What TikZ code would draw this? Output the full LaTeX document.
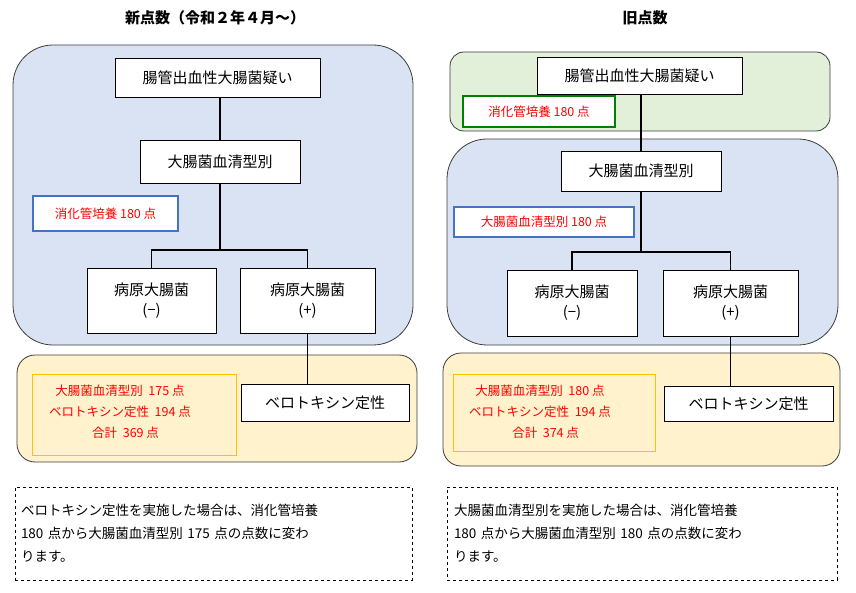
\documentclass[tikz,border=0pt]{standalone}
\usepackage{fontspec}
\setmainfont{Noto Sans CJK JP}
\usetikzlibrary{positioning}
\definecolor{panelblue}{RGB}{218,227,243}
\definecolor{panelgreen}{RGB}{226,240,217}
\definecolor{panelyellow}{RGB}{255,242,204}
\definecolor{framegray}{RGB}{60,60,60}
\definecolor{labelblue}{RGB}{68,114,196}
\definecolor{labelgreen}{RGB}{0,128,0}
\definecolor{labelorange}{RGB}{255,192,0}
\tikzset{
    box/.style={draw, thick, fill=white, font=\fontsize{15}{20}\selectfont, align=center, inner sep=0pt},
    panel/.style={draw=framegray, thick, rounded corners=#1},
    tag/.style={draw, very thick, font=\fontsize{12.5}{15}\selectfont, text=red, inner sep=0pt, align=center},
    sum/.style={font=\fontsize{12.5}{21}\selectfont, text=red, inner sep=0pt, align=center},
    note/.style={draw, dashed, thin, font=\fontsize{13.5}{23}\selectfont, align=left, inner sep=0pt},
    branch/.style={line width=1.6pt},
}
\begin{document}
\begin{tikzpicture}[x=1pt, y=-1pt]
    \useasboundingbox (0,0) rectangle (856,593);

    % New scheme (left)
    \node[font=\fontsize{15}{18}\selectfont\bfseries] (titleNew) at (215,18) {新点数（令和２年４月～）};
    \draw[panel=40pt, fill=panelblue] (13,45) rectangle (413,345);
    \draw[panel=18pt, fill=panelyellow] (17,355) rectangle (417,462);
    \node[box, minimum width=205pt, minimum height=39pt] (suspA) at (217.5,77.5) {腸管出血性大腸菌疑い};
    \node[box, minimum width=160pt, minimum height=43pt] (seroA) at (220,161.5) {大腸菌血清型別};
    \node[tag, draw=labelblue, fill=white, minimum width=145pt, minimum height=35pt] (cultA) at (105.5,213.5) {消化管培養 180 点};
    \node[box, minimum width=129pt, minimum height=65pt] (negA) at (151.5,300.5) {病原大腸菌\\(−)};
    \node[box, minimum width=135pt, minimum height=65pt] (posA) at (307.5,300.5) {病原大腸菌\\(+)};
    \node[box, minimum width=168pt, minimum height=37pt] (veroA) at (325,402.5) {ベロトキシン定性};
    \node[draw=labelorange, thin, minimum width=204pt, minimum height=81pt] (sumA) at (134,414.5) {};
    \node[sum] (sumAText) at (120,412) {大腸菌血清型別\ \ 175 点\\ベロトキシン定性\ \ 194 点\\\ \ \ \ 合計\ \ 369 点};
    \coordinate (forkA) at (seroA.south |- 0,250);
    \draw[branch] (suspA.south -| seroA.north) -- (seroA.north);
    \draw[branch] (seroA.south) -- (forkA);
    \draw[branch] (negA.north) |- (forkA) -| (posA.north);
    \draw[branch] (posA.south) -- (posA.south |- veroA.north);
    \node[note, minimum width=397pt, minimum height=93pt, text width=385pt] (noteA) at (213.5,533.5) {ベロトキシン定性を実施した場合は、消化管培養\\180 点から大腸菌血清型別 175 点の点数に変わ\\ります。};

    % Old scheme (right)
    \node[font=\fontsize{15}{18}\selectfont\bfseries] (titleOld) at (645,18) {旧点数};
    \draw[panel=14pt, fill=panelgreen] (450,52) rectangle (830,131);
    \draw[panel=40pt, fill=panelblue] (447,139) rectangle (838,345);
    \draw[panel=18pt, fill=panelyellow] (443,353) rectangle (840,466);
    \node[box, minimum width=205pt, minimum height=37pt] (suspB) at (639.5,75.5) {腸管出血性大腸菌疑い};
    \node[tag, draw=labelgreen, fill=white, minimum width=152pt, minimum height=31pt] (cultB) at (539,111.5) {消化管培養 180 点};
    \node[box, minimum width=160pt, minimum height=40pt] (seroB) at (641,171) {大腸菌血清型別};
    \node[tag, draw=labelblue, fill=white, minimum width=180pt, minimum height=30pt] (tagB) at (544,222) {大腸菌血清型別 180 点};
    \node[box, minimum width=130pt, minimum height=66pt] (negB) at (572,303) {病原大腸菌\\(−)};
    \node[box, minimum width=135pt, minimum height=66pt] (posB) at (730.5,303) {病原大腸菌\\(+)};
    \node[box, minimum width=169pt, minimum height=35pt] (veroB) at (748.5,403.5) {ベロトキシン定性};
    \node[draw=labelorange, thin, minimum width=202pt, minimum height=77pt] (sumB) at (554,412.5) {};
    \node[sum] (sumBText) at (540,412) {大腸菌血清型別\ \ 180 点\\ベロトキシン定性\ \ 194 点\\\ \ \ \ 合計\ \ 374 点};
    \coordinate (forkB) at (seroB.south |- 0,252);
    \draw[branch] (suspB.south -| seroB.north) -- (seroB.north);
    \draw[branch] (seroB.south) -- (forkB);
    \draw[branch] (negB.north) |- (forkB) -| (posB.north);
    \draw[branch] (posB.south) -- (posB.south |- veroB.north);
    \node[note, minimum width=390pt, minimum height=93pt, text width=376pt] (noteB) at (642,533.5) {大腸菌血清型別を実施した場合は、消化管培養\\180 点から大腸菌血清型別 180 点の点数に変わ\\ります。};
\end{tikzpicture}
\end{document}
